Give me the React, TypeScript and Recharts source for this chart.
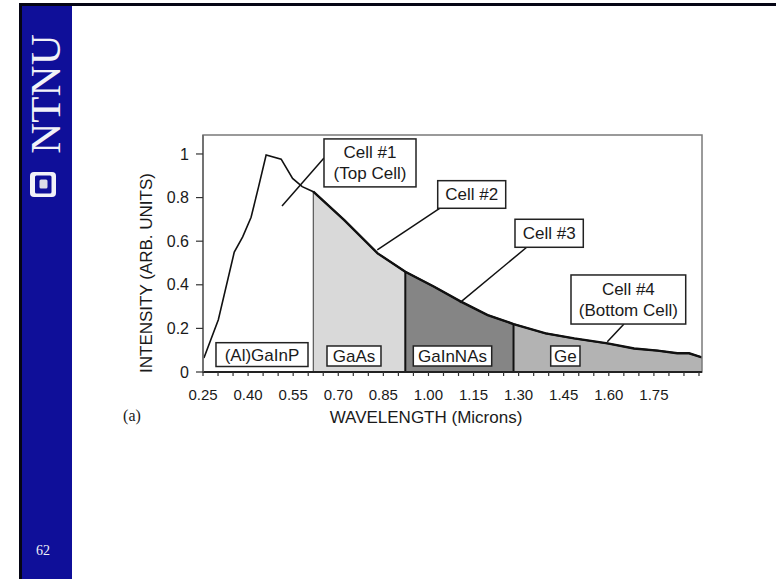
import React from 'react';
import {
  ComposedChart,
  Area,
  Line,
  XAxis,
  YAxis,
  ReferenceArea,
  ReferenceLine,
} from 'recharts';

// Wavelength (microns) and relative intensity of the solar spectrum curve
const wavelengths = [
  0.253, 0.301, 0.354, 0.382, 0.41, 0.435, 0.46, 0.51, 0.548, 0.58, 0.617,
  0.72, 0.831, 0.923, 1.019, 1.108, 1.197, 1.283, 1.39, 1.485, 1.596, 1.684,
  1.762, 1.828, 1.867, 1.91,
];
const intensity = [
  0.064, 0.24, 0.55, 0.62, 0.71, 0.85, 0.995, 0.976, 0.888, 0.85, 0.827,
  0.697, 0.544, 0.46, 0.391, 0.323, 0.261, 0.22, 0.177, 0.154, 0.131, 0.108,
  0.098, 0.086, 0.086, 0.067,
];

// Region boundaries (microns)
const gaAsStart = 0.617;
const gaInNAsStart = 0.923;
const geStart = 1.283;

const xTicks = [
  0.25, 0.3, 0.35, 0.4, 0.45, 0.5, 0.55, 0.6, 0.65, 0.7, 0.75, 0.8, 0.85, 0.9,
  0.95, 1.0, 1.05, 1.1, 1.15, 1.2, 1.25, 1.3, 1.35, 1.4, 1.45, 1.5, 1.55, 1.6,
  1.65, 1.7, 1.75, 1.8, 1.85, 1.9,
];
const xTickLabels = [
  '0.25', '0.40', '0.55', '0.70', '0.85', '1.00', '1.15', '1.30', '1.45',
  '1.60', '1.75',
];
const yTicks = [0, 0.2, 0.4, 0.6, 0.8, 1];
const yTickLabels = ['0', '0.2', '0.4', '0.6', '0.8', '1'];

const FONT = '"Liberation Sans", Arial, Helvetica, sans-serif';
const SERIF = '"Liberation Serif", "Times New Roman", serif';

const rows = wavelengths.map((w, i) => {
  const v = intensity[i];
  return {
    w,
    total: v,
    thick: w >= gaAsStart ? v : null,
    gaas: w >= gaAsStart && w <= gaInNAsStart ? v : null,
    gainnas: w >= gaInNAsStart && w <= geStart ? v : null,
    ge: w >= geStart ? v : null,
  };
});

const valueAt = (x: number) => intensity[wavelengths.indexOf(x)];

// Annotation boxes in data coordinates
const cellBoxes = [
  { x1: 0.6525, x2: 0.9586, y1: 0.849, y2: 1.069, lines: ['Cell #1', '(Top Cell)'] },
  { x1: 1.0308, x2: 1.257, y1: 0.7509, y2: 0.8775, lines: ['Cell #2'] },
  { x1: 1.2879, x2: 1.5151, y1: 0.572, y2: 0.7005, lines: ['Cell #3'] },
  { x1: 1.4742, x2: 1.8558, y1: 0.22, y2: 0.445, lines: ['Cell #4', '(Bottom Cell)'] },
];
const leaders = [
  [{ x: 0.6525, y: 0.982 }, { x: 0.5128, y: 0.761 }],
  [{ x: 1.0384, y: 0.752 }, { x: 0.8298, y: 0.5596 }],
  [{ x: 1.3268, y: 0.572 }, { x: 1.1049, y: 0.3179 }],
  [{ x: 1.6505, y: 0.22 }, { x: 1.595, y: 0.139 }],
];
const materialBoxes = [
  { x1: 0.2932, x2: 0.5993, y1: 0.0252, y2: 0.1344, lines: ['(Al)GaInP'] },
  { x1: 0.6625, x2: 0.8421, y1: 0.0275, y2: 0.1193, lines: ['GaAs'] },
  { x1: 0.9496, x2: 1.2104, y1: 0.0275, y2: 0.1193, lines: ['GaInNAs'] },
  { x1: 1.4067, x2: 1.5041, y1: 0.0275, y2: 0.1193, lines: ['Ge'] },
];

const makeBox = (lines: string[]) => (props: any) => {
  const { x, y, width, height } = props;
  const cx = x + width / 2;
  const cy = y + height / 2;
  const lh = 21;
  const n = lines.length;
  return (
    <g>
      <rect x={x} y={y} width={width} height={height} fill="#ffffff" stroke="#222" strokeWidth={1.5} />
      {lines.map((t, i) => (
        <text
          key={i}
          x={cx}
          y={cy + (i - (n - 1) / 2) * lh + 6}
          textAnchor="middle"
          fontFamily={FONT}
          fontSize={17}
          fill="#1a1a1a"
        >
          {t}
        </text>
      ))}
    </g>
  );
};

const frameShape = (props: any) => {
  const { x, y, width, height } = props;
  return <rect x={x} y={y} width={width} height={height} fill="none" stroke="#7a7a7a" strokeWidth={1.5} />;
};

export default function App() {
  return (
    <div
      style={{
        position: 'absolute',
        left: 0,
        top: 0,
        width: 776,
        height: 579,
        background: '#ffffff',
        overflow: 'hidden',
      }}
    >
      <svg width={776} height={579} style={{ position: 'absolute', left: 0, top: 0 }}>
        <rect x={19} y={3} width={757} height={3} fill="#050514" />
        <rect x={19} y={3} width={3} height={576} fill="#050514" />
        <rect x={22} y={6} width={50} height={573} fill="#0f0f99" />
        <text
          transform="translate(60,94) rotate(-90)"
          textAnchor="middle"
          fontFamily={SERIF}
          fontSize={43}
          fill="#f2f2f8"
        >
          NTNU
        </text>
        <rect x={30} y={172} width={26} height={25} rx={4} fill="#f2f2f8" />
        <rect x={35} y={175.5} width={16.5} height={18} rx={1.5} fill="#0f0f99" />
        <rect x={39.5} y={179.5} width={8} height={9} rx={1.5} fill="#dcdce8" />
        <text x={43} y={555} textAnchor="middle" fontFamily={SERIF} fontSize={14} fill="#f2f2f8">
          62
        </text>
        <text
          transform="translate(152,273) rotate(-90)"
          textAnchor="middle"
          fontFamily={FONT}
          fontSize={17}
          fill="#1a1a1a"
        >
          INTENSITY (ARB. UNITS)
        </text>
        <text x={426} y={423} textAnchor="middle" fontFamily={FONT} fontSize={17} fill="#1a1a1a">
          WAVELENGTH (Microns)
        </text>
        <text x={132} y={421} textAnchor="middle" fontFamily={SERIF} fontSize={16} fill="#1a1a1a">
          (a)
        </text>
      </svg>
      <div style={{ position: 'absolute', left: 0, top: 0 }}>
        <ComposedChart
          width={776}
          height={579}
          data={rows}
          margin={{ top: 135, right: 74, bottom: 177, left: 143 }}
        >
          <XAxis
            dataKey="w"
            type="number"
            domain={[0.25, 1.91]}
            allowDataOverflow
            ticks={xTicks}
            interval={0}
            tickFormatter={(v: number) => {
              const s = v.toFixed(2);
              return xTickLabels.includes(s) ? s : '';
            }}
            tickSize={4}
            tickMargin={13}
            height={30}
            axisLine={{ stroke: '#222', strokeWidth: 2 }}
            tickLine={{ stroke: '#333', strokeWidth: 1.2 }}
            tick={{ fontFamily: FONT, fontSize: 15, fill: '#1a1a1a' }}
          />
          <YAxis
            type="number"
            domain={[0, 1.087]}
            allowDataOverflow
            ticks={yTicks}
            interval={0}
            tickFormatter={(v: number) => yTickLabels[yTicks.indexOf(v)] ?? ''}
            width={60}
            tickSize={7}
            tickMargin={7}
            axisLine={{ stroke: '#666', strokeWidth: 1.5 }}
            tickLine={{ stroke: '#333', strokeWidth: 1.2 }}
            tick={{ fontFamily: FONT, fontSize: 16, fill: '#1a1a1a' }}
          />
          <Area
            type="linear"
            dataKey="gaas"
            stroke="none"
            fill="#d9d9d9"
            fillOpacity={1}
            connectNulls={false}
            dot={false}
            activeDot={false}
            isAnimationActive={false}
          />
          <Area
            type="linear"
            dataKey="gainnas"
            stroke="none"
            fill="#858585"
            fillOpacity={1}
            connectNulls={false}
            dot={false}
            activeDot={false}
            isAnimationActive={false}
          />
          <Area
            type="linear"
            dataKey="ge"
            stroke="none"
            fill="#b3b3b3"
            fillOpacity={1}
            connectNulls={false}
            dot={false}
            activeDot={false}
            isAnimationActive={false}
          />
          <ReferenceLine
            segment={[{ x: gaAsStart, y: 0 }, { x: gaAsStart, y: valueAt(gaAsStart) }]}
            stroke="#555"
            strokeWidth={1.2}
          />
          <ReferenceLine
            segment={[{ x: gaInNAsStart, y: 0 }, { x: gaInNAsStart, y: valueAt(gaInNAsStart) }]}
            stroke="#111"
            strokeWidth={2}
          />
          <ReferenceLine
            segment={[{ x: geStart, y: 0 }, { x: geStart, y: valueAt(geStart) }]}
            stroke="#111"
            strokeWidth={2}
          />
          <Line
            type="linear"
            dataKey="total"
            stroke="#111"
            strokeWidth={1.6}
            dot={false}
            activeDot={false}
            isAnimationActive={false}
          />
          <Line
            type="linear"
            dataKey="thick"
            stroke="#111"
            strokeWidth={2.4}
            dot={false}
            activeDot={false}
            connectNulls={false}
            isAnimationActive={false}
          />
          <ReferenceArea
            x1={0.25}
            x2={1.91}
            y1={0}
            y2={1.087}
            shape={frameShape}
            zIndex={450}
          />
          {leaders.map((seg, i) => (
            <ReferenceLine key={`l${i}`} segment={seg} stroke="#111" strokeWidth={1.5} zIndex={460} />
          ))}
          {cellBoxes.map((b, i) => (
            <ReferenceArea
              key={`c${i}`}
              x1={b.x1}
              x2={b.x2}
              y1={b.y1}
              y2={b.y2}
              shape={makeBox(b.lines)}
              zIndex={470}
            />
          ))}
          {materialBoxes.map((b, i) => (
            <ReferenceArea
              key={`m${i}`}
              x1={b.x1}
              x2={b.x2}
              y1={b.y1}
              y2={b.y2}
              shape={makeBox(b.lines)}
              zIndex={470}
            />
          ))}
        </ComposedChart>
      </div>
    </div>
  );
}
